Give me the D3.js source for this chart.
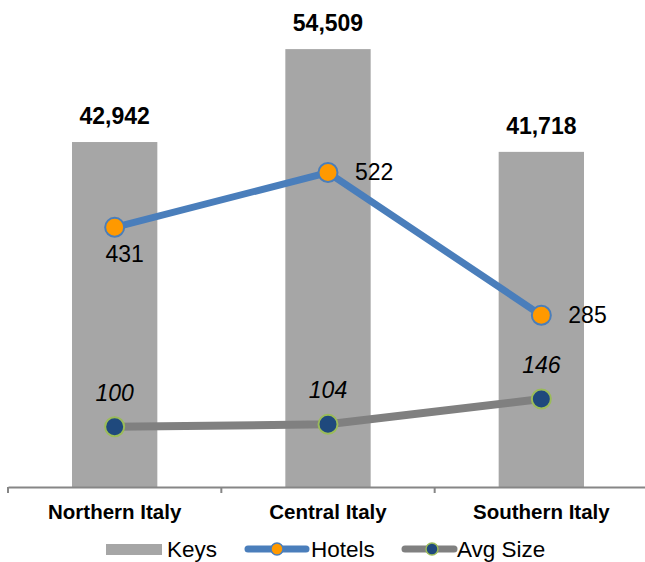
<!DOCTYPE html>
<html>
<head>
<meta charset="utf-8">
<script src="https://cdn.jsdelivr.net/npm/d3@7"></script>
<style>
  html, body { margin: 0; padding: 0; background: #fff; }
  svg { display: block; font-family: Arial, "Liberation Sans", sans-serif; }
</style>
</head>
<body>
<svg id="chart" width="645" height="562"></svg>
<script>
// Hotel supply by macro-area
const regions = ["Northern Italy", "Central Italy", "Southern Italy"];
const keys = [42942, 54509, 41718];
const hotels = [431, 522, 285];
const avgSize = [100, 104, 146];

const svg = d3.select("#chart");

const x = d3.scaleBand().domain(regions).range([8, 648]).padding(0);
const bw = x.bandwidth();
const cx = d => x(d) + bw / 2;

const yKeys = d3.scaleLinear().domain([0, 60000]).range([487, 5]);
const yHotels = d3.scaleLinear().domain([0, 800]).range([487, 5]);

const fmt = d3.format(",");

// Keys bars
svg.append("g").selectAll("rect").data(regions).join("rect")
  .attr("x", (d) => cx(d) - bw * 0.2)
  .attr("width", bw * 0.4)
  .attr("y", (d, i) => yKeys(keys[i]))
  .attr("height", (d, i) => yKeys(0) - yKeys(keys[i]))
  .attr("fill", "#a6a6a6");

// Category axis
const axis = svg.append("g").attr("transform", "translate(0,487)")
  .call(d3.axisBottom(x).tickSize(0).tickFormat(""));
axis.select(".domain").attr("stroke", "#868686").attr("stroke-width", 2);
const tickXs = [8].concat(regions.map(d => x(d) + bw));
axis.selectAll(".sep").data(tickXs).join("line")
  .attr("class", "sep")
  .attr("x1", d => d).attr("x2", d => d)
  .attr("y1", 0).attr("y2", 6)
  .attr("stroke", "#868686").attr("stroke-width", 2);

svg.append("g").selectAll("text").data(regions).join("text")
  .attr("x", d => cx(d)).attr("y", 519)
  .attr("text-anchor", "middle")
  .attr("font-weight", "bold").attr("font-size", 20.5)
  .attr("fill", "#000")
  .text(d => d);

// Bar value labels
svg.append("g").selectAll("text").data(regions).join("text")
  .attr("x", d => cx(d)).attr("y", (d, i) => yKeys(keys[i]) - 18)
  .attr("text-anchor", "middle")
  .attr("font-weight", "bold").attr("font-size", 23)
  .attr("fill", "#000")
  .text((d, i) => fmt(keys[i]));

// Avg size line
const line = d3.line().x(d => d[0]).y(d => d[1]);
const avgPts = regions.map((d, i) => [cx(d), yHotels(avgSize[i])]);
svg.append("path").attr("d", line(avgPts))
  .attr("fill", "none").attr("stroke", "#808080").attr("stroke-width", 8);
svg.append("g").selectAll("circle").data(avgPts).join("circle")
  .attr("cx", d => d[0]).attr("cy", d => d[1]).attr("r", 9.5)
  .attr("fill", "#1f497d").attr("stroke", "#9bbb59").attr("stroke-width", 2);

// Hotels line
const hotPts = regions.map((d, i) => [cx(d), yHotels(hotels[i])]);
svg.append("path").attr("d", line(hotPts))
  .attr("fill", "none").attr("stroke", "#4a7ebb").attr("stroke-width", 7);
svg.append("g").selectAll("circle").data(hotPts).join("circle")
  .attr("cx", d => d[0]).attr("cy", d => d[1]).attr("r", 9.5)
  .attr("fill", "#ff9900").attr("stroke", "#4a7ebb").attr("stroke-width", 2);

// Hotels labels: first below, others to the right
const hotLabels = svg.append("g");
hotPts.forEach((p, i) => {
  const t = hotLabels.append("text").attr("font-size", 23).attr("fill", "#000")
    .text(hotels[i]);
  if (i === 0) t.attr("x", p[0] + 10).attr("y", p[1] + 35).attr("text-anchor", "middle");
  else t.attr("x", p[0] + 27).attr("y", p[1] + 8).attr("text-anchor", "start");
});

// Avg size labels above the points
svg.append("g").selectAll("text").data(avgPts).join("text")
  .attr("x", d => d[0]).attr("y", d => d[1] - 26)
  .attr("text-anchor", "middle")
  .attr("font-size", 23).attr("font-style", "italic").attr("fill", "#000")
  .text((d, i) => avgSize[i]);

// Legend
const lg = svg.append("g").attr("transform", "translate(0,549)");
lg.append("rect").attr("x", 106).attr("y", -5).attr("width", 56).attr("height", 11).attr("fill", "#a6a6a6");
lg.append("text").attr("x", 167).attr("y", 7.5).attr("font-size", 22.5).text("Keys");
lg.append("line").attr("x1", 248).attr("x2", 306).attr("y1", 0).attr("y2", 0)
  .attr("stroke", "#4a7ebb").attr("stroke-width", 7).attr("stroke-linecap", "round");
lg.append("circle").attr("cx", 277).attr("cy", 0).attr("r", 6)
  .attr("fill", "#ff9900").attr("stroke", "#4a7ebb").attr("stroke-width", 1.5);
lg.append("text").attr("x", 311).attr("y", 7.5).attr("font-size", 22.5).text("Hotels");
lg.append("line").attr("x1", 405).attr("x2", 454).attr("y1", 0).attr("y2", 0)
  .attr("stroke", "#808080").attr("stroke-width", 7).attr("stroke-linecap", "round");
lg.append("circle").attr("cx", 432).attr("cy", 0).attr("r", 6)
  .attr("fill", "#1f497d").attr("stroke", "#9bbb59").attr("stroke-width", 1.5);
lg.append("text").attr("x", 457).attr("y", 7.5).attr("font-size", 22.5).text("Avg Size");
</script>
</body>
</html>
